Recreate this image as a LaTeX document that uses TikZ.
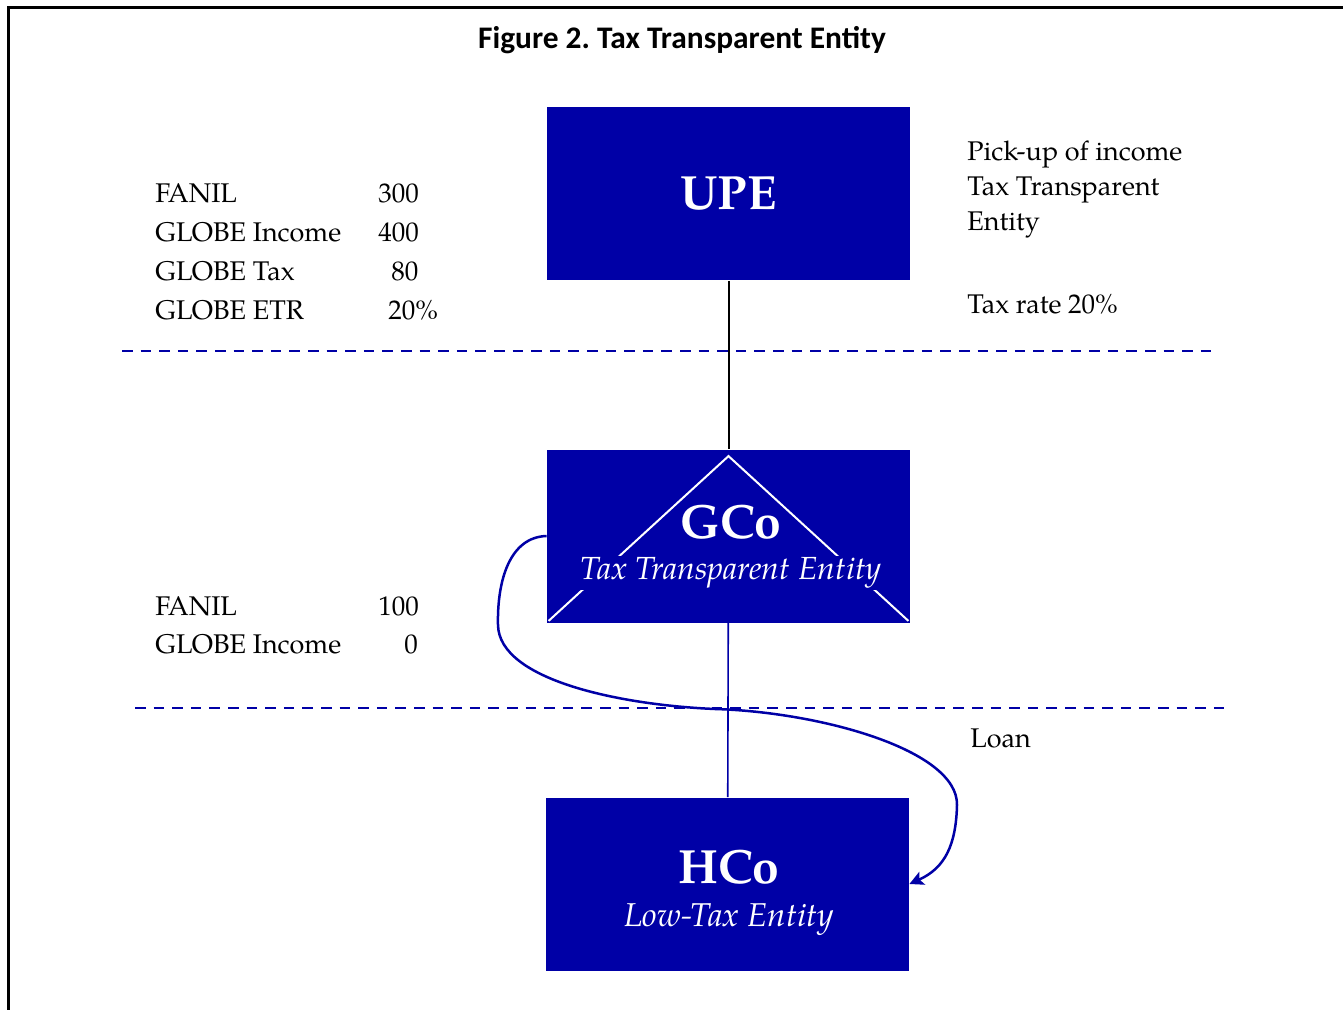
\documentclass[tikz,border=0pt]{standalone}
\usepackage{fontspec}
\setmainfont{TeX Gyre Pagella}
\newfontfamily\titlefont{Carlito}
\usetikzlibrary{arrows.meta}

\definecolor{boxblue}{RGB}{0,0,166}
\tikzset{
	entity/.style={fill=boxblue, text=white, minimum width=181.5pt, minimum height=86.5pt, inner sep=0pt},
	infotext/.style={anchor=base west, inner sep=0pt, font=\fontsize{13.5}{16}\selectfont},
	divider/.style={boxblue, line width=1pt, dash pattern=on 5.3pt off 4pt},
	loanarrow/.style={boxblue, line width=1.25pt, -{Stealth[length=7pt, width=7pt, inset=1.5pt]}},
}

\begin{document}
\begin{tikzpicture}[x=0.5pt, y=-0.5pt]
		\useasboundingbox (0,0) rectangle (1343,1010);
		\draw[line width=1.5pt] (8,1010) -- (8,7.5) -- (1343,7.5);
		\node[font=\titlefont\bfseries\fontsize{15.7}{18}\selectfont] (title) at (682,40) {Figure 2.\ Tax Transparent Entity};

		% entities
		\node[entity, font=\bfseries\fontsize{24}{28}\selectfont] (upe) at (728.5,194) {UPE};
		\node[entity] (gco) at (728.5,536) {};
		\draw[white, line width=1pt] ([xshift=1pt, yshift=1pt]gco.south west) -- ([yshift=-3.5pt]gco.north) -- ([xshift=-1pt, yshift=1pt]gco.south east);
		\node[text=white, font=\bfseries\fontsize{24}{28}\selectfont] (gconame) at (731,522) {GCo};
		\node[fill=boxblue, text=white, inner sep=1pt, font=\itshape\fontsize{16}{18}\selectfont] (gcotype) at (731,573) {Tax Transparent Entity};
		\node[entity] (hco) at (727.5,884) {};
		\node[text=white, font=\bfseries\fontsize{24}{28}\selectfont] (hconame) at (729,867) {HCo};
		\node[text=white, font=\itshape\fontsize{16.5}{18}\selectfont] (hcotype) at (729,920) {Low-Tax Entity};

		% ownership
		\draw[line width=1pt] (upe) -- (gco);
		\draw[boxblue, line width=0.8pt] (gco) -- (hco);
		\draw[divider] (122,351) -- (1218,351);
		\draw[divider] (135,708) -- (1230,708);

		% loan
		\draw[loanarrow] 
			(gco.west) .. controls (510,537) and (497,580) .. (498,625) 
			.. controls (499,680) and (620,705) .. (715,709) 
			.. controls (820,712) and (958,750) .. (957,805) 
			.. controls (956,845) and (945,868) .. (hco.east);

		% figures
		\foreach \lbl/\val/\vx [count=\i] in {FANIL/300/378, GLOBE Income/400/378, GLOBE Tax/80/391, GLOBE ETR/20\%/388}
		{
			\node[infotext] (upelbl\i) at (155, {203 + 38.7*(\i-1)}) {\lbl};
			\node[infotext] (upeval\i) at (\vx, {203 + 38.7*(\i-1)}) {\val};
		}
		\foreach \lbl/\val/\vx [count=\i] in {FANIL/100/378, GLOBE Income/0/404}
		{
			\node[infotext] (gcolbl\i) at (155, {615 + 38*(\i-1)}) {\lbl};
			\node[infotext] (gcoval\i) at (\vx, {615 + 38*(\i-1)}) {\val};
		}
		\foreach \txt/\y [count=\i] in {Pick-up of income/161, Tax Transparent/196, Entity/231, Tax rate 20\%/314}
		{
			\node[infotext] (note\i) at (967,\y) {\txt};
		}
		\node[infotext] (loan) at (970,747) {Loan};
	\end{tikzpicture}
\end{document}
